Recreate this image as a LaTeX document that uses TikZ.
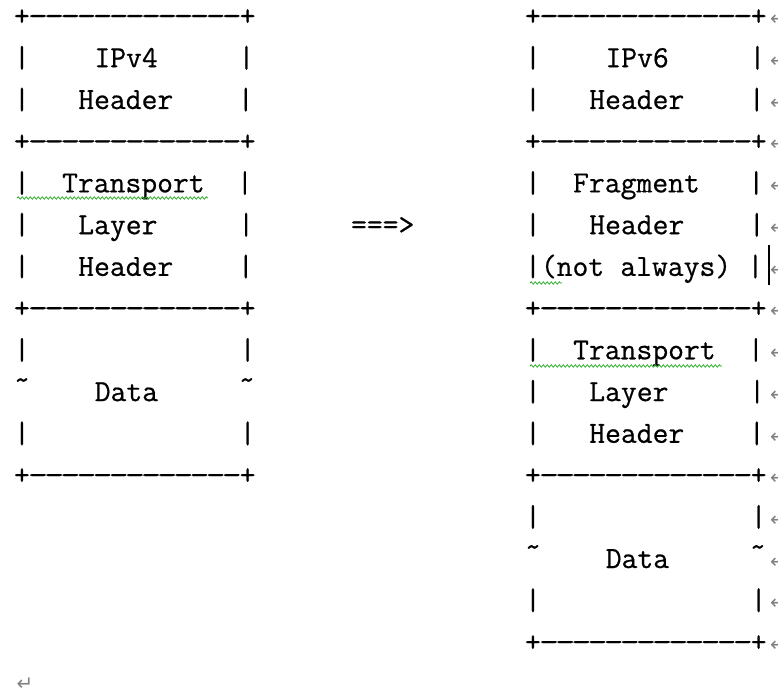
\documentclass[tikz,border=0pt]{standalone}
\usepackage{fontspec}
\usepackage{graphicx}
\usepackage{tikz}
\usetikzlibrary{decorations.pathmorphing}
\setmonofont{Latin Modern Mono}[FakeBold=0.6]
\newfontfamily\markfont{DejaVu Sans}
\definecolor{spellgreen}{RGB}{50,175,50}
\definecolor{markgrey}{RGB}{130,130,130}
\def\asciisp{\hspace*{0.525em}}
\def\asciidash{\makebox[0.525em]{\scalebox{1.25}[1]{-}}}
\def\asciitilde{\makebox[0.525em]{\raisebox{0.38em}{\textasciitilde}}}
\def\asciirule{+\asciidash\asciidash\asciidash\asciidash\asciidash\asciidash\asciidash\asciidash\asciidash\asciidash\asciidash\asciidash\asciidash+}
\def\asciiblank{|\asciisp\asciisp\asciisp\asciisp\asciisp\asciisp\asciisp\asciisp\asciisp\asciisp\asciisp\asciisp\asciisp|}
\tikzset{
	ascii/.style={anchor=base west, inner sep=0pt, outer sep=0pt, font=\fontsize{30.76}{36}\selectfont\ttfamily},
	parmark/.style={anchor=west, inner sep=0pt, outer sep=0pt, color=markgrey, font=\fontsize{20}{20}\selectfont\markfont},
	squiggle/.style={spellgreen, line width=0.8pt, decorate, decoration={snake, amplitude=1.2pt, segment length=4pt}}
}

\begin{document}
\begin{tikzpicture}[x=1pt, y=1pt]
			%%%%% START %%%%%
			\useasboundingbox (0, 0) rectangle (778, -692);
			
			%%%%% IPv4 packet %%%%%
			\node[ascii] (l0) at (14, -25.5) {\asciirule};
			\node[ascii] (l1) at (14, -67.2) {|\asciisp\asciisp\asciisp\asciisp IPv4\asciisp\asciisp\asciisp\asciisp\asciisp|};
			\node[ascii] (l2) at (14, -109.0) {|\asciisp\asciisp\asciisp Header\asciisp\asciisp\asciisp\asciisp|};
			\node[ascii] (l3) at (14, -150.7) {\asciirule};
			\node[ascii] (l4) at (14, -192.4) {|\asciisp\asciisp Transport\asciisp\asciisp|};
			\node[ascii] (l5) at (14, -234.2) {|\asciisp\asciisp\asciisp Layer\asciisp\asciisp\asciisp\asciisp\asciisp|};
			\node[ascii] (l6) at (14, -275.9) {|\asciisp\asciisp\asciisp Header\asciisp\asciisp\asciisp\asciisp|};
			\node[ascii] (l7) at (14, -317.6) {\asciirule};
			\node[ascii] (l8) at (14, -359.3) {\asciiblank};
			\node[ascii] (l9) at (14, -401.1) {\asciitilde\asciisp\asciisp\asciisp\asciisp Data\asciisp\asciisp\asciisp\asciisp\asciisp\asciitilde};
			\node[ascii] (l10) at (14, -442.8) {\asciiblank};
			\node[ascii] (l11) at (14, -484.5) {\asciirule};
			
			\node[ascii] (arrow) at (351, -234.2) {===>};
			
			%%%%% IPv6 packet %%%%%
			\node[ascii] (r0) at (525, -25.5) {\asciirule};
			\node[ascii] (r1) at (525, -67.2) {|\asciisp\asciisp\asciisp\asciisp IPv6\asciisp\asciisp\asciisp\asciisp\asciisp|};
			\node[ascii] (r2) at (525, -109.0) {|\asciisp\asciisp\asciisp Header\asciisp\asciisp\asciisp\asciisp|};
			\node[ascii] (r3) at (525, -150.7) {\asciirule};
			\node[ascii] (r4) at (525, -192.4) {|\asciisp\asciisp Fragment\asciisp\asciisp\asciisp|};
			\node[ascii] (r5) at (525, -234.2) {|\asciisp\asciisp\asciisp Header\asciisp\asciisp\asciisp\asciisp|};
			\node[ascii] (r6) at (525, -275.9) {|(not\asciisp always)\asciisp|};
			\node[ascii] (r7) at (525, -317.6) {\asciirule};
			\node[ascii] (r8) at (525, -359.3) {|\asciisp\asciisp Transport\asciisp\asciisp|};
			\node[ascii] (r9) at (525, -401.1) {|\asciisp\asciisp\asciisp Layer\asciisp\asciisp\asciisp\asciisp\asciisp|};
			\node[ascii] (r10) at (525, -442.8) {|\asciisp\asciisp\asciisp Header\asciisp\asciisp\asciisp\asciisp|};
			\node[ascii] (r11) at (525, -484.5) {\asciirule};
			\node[ascii] (r12) at (525, -526.3) {\asciiblank};
			\node[ascii] (r13) at (525, -568.0) {\asciitilde\asciisp\asciisp\asciisp\asciisp Data\asciisp\asciisp\asciisp\asciisp\asciisp\asciitilde};
			\node[ascii] (r14) at (525, -609.7) {\asciiblank};
			\node[ascii] (r15) at (525, -651.5) {\asciirule};
			
			%%%%% paragraph marks %%%%%
			\node[parmark] (m0) at (770, -19.5) {↵};
			\node[parmark] (m1) at (770, -61.2) {↵};
			\node[parmark] (m2) at (770, -103.0) {↵};
			\node[parmark] (m3) at (770, -144.7) {↵};
			\node[parmark] (m4) at (770, -186.4) {↵};
			\node[parmark] (m5) at (770, -228.2) {↵};
			\node[parmark] (m6) at (770, -269.9) {↵};
			\node[parmark] (m7) at (770, -311.6) {↵};
			\node[parmark] (m8) at (770, -353.3) {↵};
			\node[parmark] (m9) at (770, -395.1) {↵};
			\node[parmark] (m10) at (770, -436.8) {↵};
			\node[parmark] (m11) at (770, -478.5) {↵};
			\node[parmark] (m12) at (770, -520.3) {↵};
			\node[parmark] (m13) at (770, -562.0) {↵};
			\node[parmark] (m14) at (770, -603.7) {↵};
			\node[parmark] (m15) at (770, -645.5) {↵};
			\node[parmark, anchor=center] (m16) at (25, -684) {↵};
			
			%%%%% spell check and cursor %%%%%
			\draw[squiggle] (17, -198) -- (208, -198);
			\draw[squiggle] (530, -366) -- (722, -366);
			\draw[squiggle] (530, -283) -- (562, -283);
			\draw[line width=2.5pt] (769, -245) -- (769, -285);
			
			%%%%% END %%%%%
		\end{tikzpicture}
\end{document}
